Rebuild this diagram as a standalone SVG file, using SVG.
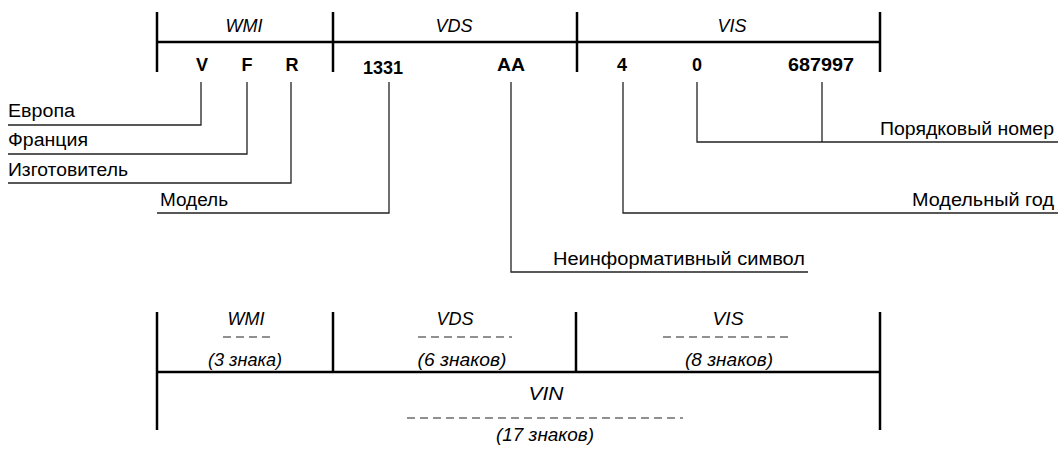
<svg xmlns="http://www.w3.org/2000/svg" width="1058" height="450" viewBox="0 0 1058 450">
<style>
.bar{stroke:#000;stroke-width:2.5;fill:none}
.ld{stroke:#222;stroke-width:1.3;fill:none}
.dash{stroke:#222;stroke-width:1.2;stroke-dasharray:8 5;fill:none}
.it{font-family:"Liberation Sans",Arial,sans-serif;font-style:italic;font-size:18px;fill:#000;text-anchor:middle}
.b{font-family:"Liberation Sans",Arial,sans-serif;font-weight:bold;font-size:18px;fill:#000;text-anchor:middle}
.lb{font-family:"Liberation Sans",Arial,sans-serif;font-size:18px;fill:#000}
</style>
<rect width="1058" height="450" fill="#fff"/>
<g id="top-frame">
<line class="bar" x1="157" y1="12" x2="157" y2="72"/>
<line class="bar" x1="333" y1="12" x2="333" y2="72"/>
<line class="bar" x1="577" y1="12" x2="577" y2="72"/>
<line class="bar" x1="880" y1="12" x2="880" y2="72"/>
<line class="bar" x1="157" y1="42" x2="880" y2="42"/>
<text class="it" x="244" y="32" textLength="37" lengthAdjust="spacingAndGlyphs">WMI</text>
<text class="it" x="454" y="32" textLength="37" lengthAdjust="spacingAndGlyphs">VDS</text>
<text class="it" x="732" y="32" textLength="29" lengthAdjust="spacingAndGlyphs">VIS</text>
</g>
<g id="codes">
<text class="b" x="202" y="71">V</text>
<text class="b" x="247" y="71">F</text>
<text class="b" x="292" y="71">R</text>
<text class="b" x="383" y="74" textLength="40" lengthAdjust="spacingAndGlyphs">1331</text>
<text class="b" x="511" y="71" textLength="28" lengthAdjust="spacingAndGlyphs">AA</text>
<text class="b" x="622" y="71">4</text>
<text class="b" x="697" y="71">0</text>
<text class="b" x="821" y="71" textLength="66" lengthAdjust="spacingAndGlyphs">687997</text>
</g>
<g id="connectors">
<polyline class="ld" points="201,82 201,125 8,125"/>
<polyline class="ld" points="247,82 247,154 8,154"/>
<polyline class="ld" points="291,82 291,183 8,183"/>
<polyline class="ld" points="389,82 389,213 157,213"/>
<polyline class="ld" points="511,82 511,272 808,272"/>
<polyline class="ld" points="623,82 623,213 1058,213"/>
<polyline class="ld" points="697,82 697,142 1058,142"/>
<line class="ld" x1="822" y1="82" x2="822" y2="142"/>
</g>
<g id="label-europe"><text class="lb" x="8" y="117" textLength="67" lengthAdjust="spacingAndGlyphs">Европа</text></g>
<g id="label-france"><text class="lb" x="8" y="146" textLength="80" lengthAdjust="spacingAndGlyphs">Франция</text></g>
<g id="label-maker"><text class="lb" x="8" y="176" textLength="120" lengthAdjust="spacingAndGlyphs">Изготовитель</text></g>
<g id="label-model"><text class="lb" x="160" y="206" textLength="68" lengthAdjust="spacingAndGlyphs">Модель</text></g>
<g id="label-filler"><text class="lb" x="553" y="265" textLength="252" lengthAdjust="spacingAndGlyphs">Неинформативный символ</text></g>
<g id="label-year"><text class="lb" x="1054" y="206" text-anchor="end" textLength="142" lengthAdjust="spacingAndGlyphs">Модельный год</text></g>
<g id="label-serial"><text class="lb" x="1054" y="135" text-anchor="end" textLength="174" lengthAdjust="spacingAndGlyphs">Порядковый номер</text></g>
<g id="bottom-frame">
<line class="bar" x1="157" y1="312" x2="157" y2="430"/>
<line class="bar" x1="333" y1="312" x2="333" y2="372"/>
<line class="bar" x1="576" y1="312" x2="576" y2="372"/>
<line class="bar" x1="880" y1="312" x2="880" y2="430"/>
<line class="bar" x1="157" y1="372" x2="880" y2="372"/>
</g>
<g id="wmi-count">
<text class="it" x="246" y="325" textLength="37" lengthAdjust="spacingAndGlyphs">WMI</text>
<line class="dash" x1="223" y1="337" x2="270" y2="337"/>
<text class="it" x="245" y="366" textLength="74" lengthAdjust="spacingAndGlyphs">(3 знака)</text>
</g>
<g id="vds-count">
<text class="it" x="455" y="325" textLength="37" lengthAdjust="spacingAndGlyphs">VDS</text>
<line class="dash" x1="418" y1="337" x2="512" y2="337"/>
<text class="it" x="462" y="366" textLength="89" lengthAdjust="spacingAndGlyphs">(6 знаков)</text>
</g>
<g id="vis-count">
<text class="it" x="728" y="325" textLength="31" lengthAdjust="spacingAndGlyphs">VIS</text>
<line class="dash" x1="663" y1="337" x2="793" y2="337"/>
<text class="it" x="729" y="366" textLength="88" lengthAdjust="spacingAndGlyphs">(8 знаков)</text>
</g>
<g id="vin-count">
<text class="it" x="546" y="400" textLength="35" lengthAdjust="spacingAndGlyphs">VIN</text>
<line class="dash" x1="407" y1="418" x2="683" y2="418"/>
<text class="it" x="545" y="441" textLength="98" lengthAdjust="spacingAndGlyphs">(17 знаков)</text>
</g>
</svg>
